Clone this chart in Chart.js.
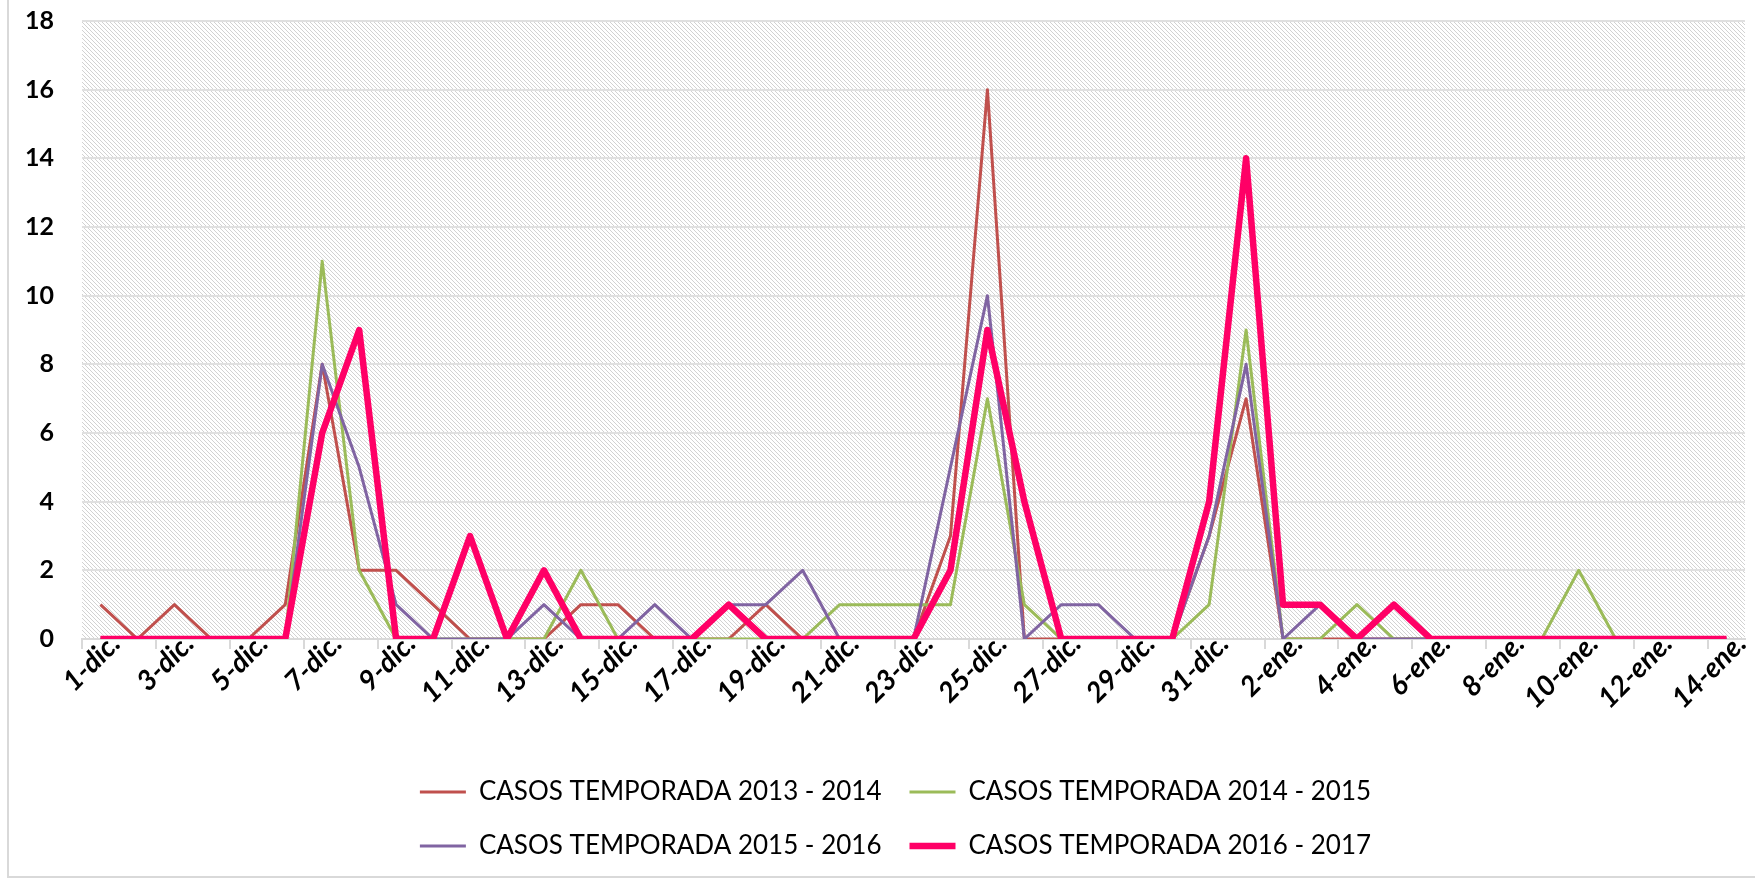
<!DOCTYPE html>
<html>
<head>
<meta charset="utf-8">
<script src="https://cdn.jsdelivr.net/npm/chart.js@4.4.1/dist/chart.umd.min.js"></script>
<style>
  html, body { margin: 0; padding: 0; background: #fff; }
  #wrap { width: 1755px; height: 880px; position: relative; }
</style>
</head>
<body>
<div id="wrap"><canvas id="casosChart"></canvas></div>
<script>
// ---- data ----
const FECHAS = [
  "1-dic.", "2-dic.", "3-dic.", "4-dic.", "5-dic.", "6-dic.", "7-dic.", "8-dic.", "9-dic.", "10-dic.",
  "11-dic.", "12-dic.", "13-dic.", "14-dic.", "15-dic.", "16-dic.", "17-dic.", "18-dic.", "19-dic.", "20-dic.",
  "21-dic.", "22-dic.", "23-dic.", "24-dic.", "25-dic.", "26-dic.", "27-dic.", "28-dic.", "29-dic.", "30-dic.",
  "31-dic.", "1-ene.", "2-ene.", "3-ene.", "4-ene.", "5-ene.", "6-ene.", "7-ene.", "8-ene.", "9-ene.",
  "10-ene.", "11-ene.", "12-ene.", "13-ene.", "14-ene."
];

const SERIES_LABELS = [
  "CASOS TEMPORADA 2013 - 2014",
  "CASOS TEMPORADA 2014 - 2015",
  "CASOS TEMPORADA 2015 - 2016",
  "CASOS TEMPORADA 2016 - 2017"
];

const casos2013 = [1, 0, 1, 0, 0, 1, 8, 2, 2, 1, 0, 0, 0, 1, 1, 0, 0, 0, 1, 0, 0, 0, 0, 3, 16, 0, 0, 0, 0, 0, 3, 7, 0, 0, 0, 0, 0, 0, 0, 0, 0, 0, 0, 0, 0];
const casos2014 = [0, 0, 0, 0, 0, 0, 11, 2, 0, 0, 0, 0, 0, 2, 0, 0, 0, 0, 0, 0, 1, 1, 1, 1, 7, 1, 0, 0, 0, 0, 1, 9, 0, 0, 1, 0, 0, 0, 0, 0, 2, 0, 0, 0, 0];
const casos2015 = [0, 0, 0, 0, 0, 0, 8, 5, 1, 0, 0, 0, 1, 0, 0, 1, 0, 1, 1, 2, 0, 0, 0, 5, 10, 0, 1, 1, 0, 0, 3, 8, 0, 1, 0, 0, 0, 0, 0, 0, 0, 0, 0, 0, 0];
const casos2016 = [0, 0, 0, 0, 0, 0, 6, 9, 0, 0, 3, 0, 2, 0, 0, 0, 0, 1, 0, 0, 0, 0, 0, 2, 9, 4, 0, 0, 0, 0, 4, 14, 1, 1, 0, 1, 0, 0, 0, 0, 0, 0, 0, 0, 0];

const Y_TICKS = [0, 2, 4, 6, 8, 10, 12, 14, 16, 18];

// ---- look ----
const COLORS = ["#C0504D", "#9BBB59", "#8064A2", "#FF0066"];
const WIDTHS = [3, 3, 3, 6.5];
const LEGEND_ROW_WIDTH = 1100; // two legend items per row
const LEGEND_SHIFT = 18;       // legend block sits a little right of centre

// hatched plot background + outer frame
const hatchBackground = {
  id: "hatchBackground",
  beforeDraw(chart) {
    const { ctx, chartArea: a } = chart;
    ctx.save();
    ctx.fillStyle = "#fff";
    ctx.fillRect(0, 0, chart.width, chart.height);

    const tile = document.createElement("canvas");
    tile.width = 4;
    tile.height = 4;
    const tc = tile.getContext("2d");
    tc.fillStyle = "#d2d2d2";
    for (let i = 0; i < 4; i++) tc.fillRect(i, i, 1, 1);
    ctx.fillStyle = ctx.createPattern(tile, "repeat");
    ctx.fillRect(a.left, a.top, a.right - a.left, a.bottom - a.top);

    ctx.strokeStyle = "#d9d9d9";
    ctx.lineWidth = 2;
    ctx.beginPath();
    ctx.moveTo(8, 0);
    ctx.lineTo(8, 877);
    ctx.lineTo(chart.width, 877);
    ctx.stroke();
    ctx.restore();
  }
};

// keep the legend at two items per row
const legendRows = {
  id: "legendRows",
  afterInit(chart) {
    const lg = chart.legend;
    if (!lg || !lg._fitRows) return;
    const fitRows = lg._fitRows;
    lg._fitRows = function (...args) {
      const mw = this.maxWidth;
      this.maxWidth = Math.min(mw, LEGEND_ROW_WIDTH);
      const h = fitRows.apply(this, args);
      this.maxWidth = mw;
      return h;
    };
  },
  afterLayout(chart) {
    const lg = chart.legend;
    if (!lg) return;
    lg.left += LEGEND_SHIFT;
    lg.right += LEGEND_SHIFT;
  }
};

const seriesData = [casos2013, casos2014, casos2015, casos2016];

new Chart(document.getElementById("casosChart"), {
  type: "line",
  data: {
    labels: FECHAS,
    datasets: seriesData.map((d, i) => ({
      label: SERIES_LABELS[i],
      data: d,
      borderColor: COLORS[i],
      backgroundColor: COLORS[i],
      borderWidth: WIDTHS[i],
      pointRadius: 0,
      pointHoverRadius: 0,
      tension: 0,
      borderJoinStyle: "round",
      fill: false,
      order: 4 - i
    }))
  },
  options: {
    responsive: true,
    maintainAspectRatio: false,
    animation: false,
    devicePixelRatio: 1,
    layout: { padding: { left: 10, right: 10, top: 21, bottom: 11 } },
    plugins: {
      tooltip: { enabled: false },
      legend: {
        position: "bottom",
        labels: {
          usePointStyle: true,
          pointStyleWidth: 46,
          padding: 28,
          color: "#000",
          font: { family: "Lato", size: 26 },
          generateLabels: chart => chart.data.datasets.map((ds, i) => ({
            text: ds.label,
            fillStyle: ds.borderColor,
            strokeStyle: ds.borderColor,
            lineWidth: ds.borderWidth,
            lineCap: "butt",
            pointStyle: "line",
            rotation: 0,
            hidden: false,
            datasetIndex: i
          }))
        }
      }
    },
    scales: {
      x: {
        offset: true,
        grid: {
          display: true,
          offset: true,
          drawOnChartArea: false,
          drawTicks: true,
          tickLength: 10,
          lineWidth: 2,
          color: c => (c.index % 2 === 0 ? "#d9d9d9" : "rgba(0,0,0,0)")
        },
        border: { display: true, color: "#d9d9d9", width: 2 },
        ticks: {
          autoSkip: false,
          minRotation: 45,
          maxRotation: 45,
          padding: -22,
          labelOffset: 15,
          color: "#000",
          font: { family: "Lato", size: 28, weight: "bold", style: "italic" },
          callback: (v, i) => (i % 2 === 0 ? FECHAS[i] : "")
        },
        afterFit: s => { s.height = 112; }
      },
      y: {
        min: 0,
        max: 18,
        afterBuildTicks: s => { s.ticks = Y_TICKS.map(v => ({ value: v })); },
        ticks: {
          padding: 2,
          color: "#000",
          font: { family: "Lato", size: 25, weight: "bold" }
        },
        grid: {
          color: "#e0e0e0",
          lineWidth: 2,
          drawTicks: true,
          tickLength: 26,
          tickColor: "rgba(0,0,0,0)"
        },
        border: { display: false },
        afterFit: s => { s.width = 72; }
      }
    }
  },
  plugins: [hatchBackground, legendRows]
});
</script>
</body>
</html>
